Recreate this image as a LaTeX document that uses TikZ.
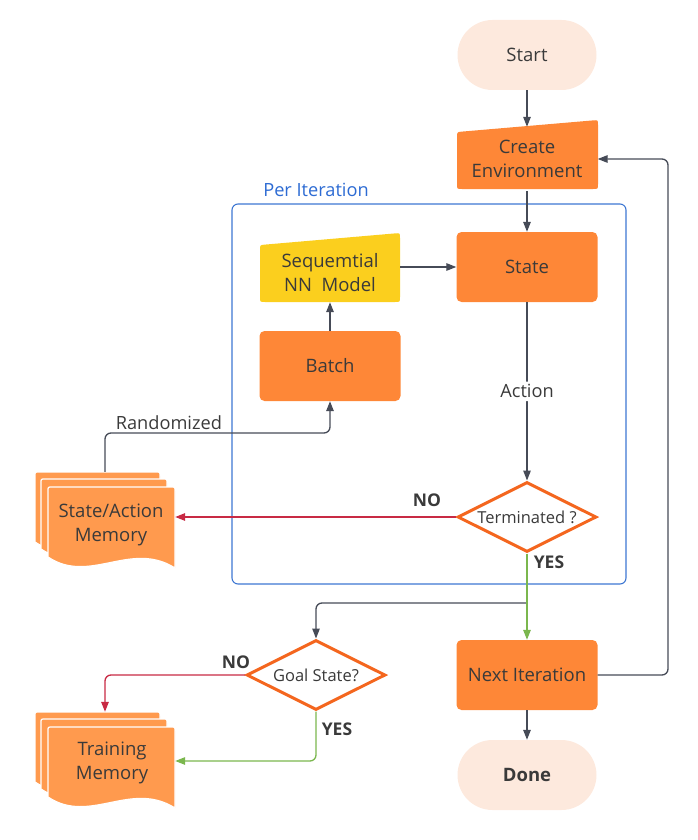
\documentclass[tikz,border=0pt]{standalone}
\usepackage{fontspec}
\setmainfont{Open Sans}
\usetikzlibrary{shapes.geometric,arrows.meta}

\definecolor{peach}{HTML}{FDE9DD}
\definecolor{procfill}{HTML}{FE8737}
\definecolor{memfill}{HTML}{FF9A4E}
\definecolor{modelfill}{HTML}{FBCF1E}
\definecolor{decline}{HTML}{F4661E}
\definecolor{txt}{HTML}{3A3A3A}
\definecolor{wire}{HTML}{464B57}
\definecolor{nored}{HTML}{C82A44}
\definecolor{yesgreen}{HTML}{7BB74E}
\definecolor{loopblue}{HTML}{3E77D2}
\definecolor{looptxt}{HTML}{2D6BD3}

% one page of a stacked document symbol: #1,#2 = top-left, #3 = width, #4 = height
\newcommand\docpage[4]{%
  \fill[memfill, draw=white, line width=1.2pt]
    (#1,#2+4) .. controls (#1,#2) .. (#1+4,#2)
    -- (#1+#3-4,#2) .. controls (#1+#3,#2) .. (#1+#3,#2+4)
    -- (#1+#3,#2+#4)
    .. controls (#1+0.65*#3,#2+#4-28) and (#1+0.33*#3,#2+#4+17) .. (#1,#2+#4-11)
    -- cycle;}

\begin{document}
\begin{tikzpicture}[x=1pt,y=-1pt,
  every node/.style={text=txt, font=\fontsize{18.5}{24}\selectfont},
  terminal/.style={rectangle, rounded corners=35pt, fill=peach,
    minimum width=139pt, minimum height=70pt, inner sep=0pt},
  procbox/.style={rectangle, rounded corners=5pt, fill=procfill,
    minimum width=141pt, minimum height=70pt, inner sep=0pt, align=center},
  textbox/.style={inner sep=0pt, align=center},
  decision/.style={diamond, draw=decline, line width=3pt, fill=white,
    minimum width=139pt, minimum height=70pt, inner sep=0pt, aspect=2,
    font=\fontsize{16.5}{20}\selectfont},
  lbl/.style={inner sep=1pt, font=\fontsize{18.2}{22}\selectfont},
  yn/.style={inner sep=1pt, font=\fontsize{17.5}{21}\selectfont\bfseries},
  wireline/.style={draw=wire, line width=1.3pt, rounded corners=6pt},
  arr/.style={wireline, -{Triangle[length=10pt,width=7.5pt]}},
  noarr/.style={draw=nored, line width=1.3pt, rounded corners=6pt,
    -{Triangle[length=10pt,width=7.5pt]}},
  yesarr/.style={draw=yesgreen, line width=1.3pt, rounded corners=6pt,
    -{Triangle[length=10pt,width=7.5pt]}}
]
\useasboundingbox (0,0) rectangle (697,840);

% loop frame
\draw[loopblue, line width=1.1pt, rounded corners=6pt] (232,204) rectangle (626,584);
\node[lbl, text=looptxt] (looplbl) at (316,190) {Per Iteration};

% terminals
\node[terminal] (start) at (527,55) {Start};
\node[terminal, font=\fontsize{18.5}{22}\selectfont\bfseries] (done) at (527,775) {Done};

% manual-input shapes
\fill[procfill] (457,138) .. controls (457,132) .. (462,131.6)
  -- (593,120.4) .. controls (598,120) .. (598,125)
  -- (598,184) .. controls (598,189) .. (593,189)
  -- (462,189) .. controls (457,189) .. (457,184) -- cycle;
\node[textbox, minimum width=141pt, minimum height=64pt] (create) at (527,159) {Create\\Environment};

\fill[modelfill] (260,250) .. controls (260,245) .. (265,244.6)
  -- (395,233.4) .. controls (400,233) .. (400,238)
  -- (400,297) .. controls (400,302) .. (395,302)
  -- (265,302) .. controls (260,302) .. (260,297) -- cycle;
\node[textbox, minimum width=140pt, minimum height=58pt] (seq) at (330,273) {Sequemtial\\NN\ \ Model};

% process boxes
\node[procbox] (state) at (527,267) {State};
\node[procbox] (batch) at (330,366) {Batch};
\node[procbox] (next) at (527,675) {Next Iteration};

% decisions (zero-width text box keeps the diamond at its minimum size)
\node[decision] (term) at (527,517) {\makebox[0pt]{Terminated ?}};
\node[decision] (goal) at (316,675) {\makebox[0pt]{Goal State?}};

% stacked memories
\docpage{35}{472}{125}{81}
\docpage{41}{479}{126}{81}
\docpage{48}{487}{127}{81}
\node[minimum width=140pt, minimum height=98pt, inner sep=0pt] (sam) at (105,521) {};
\node[textbox] (samtxt) at (111,525) {State/Action\\Memory};

\docpage{35}{712}{125}{81}
\docpage{41}{719}{126}{81}
\docpage{48}{727}{127}{81}
\node[minimum width=140pt, minimum height=98pt, inner sep=0pt] (tm) at (105,761) {};
\node[textbox] (tmtxt) at (112,763) {Training\\Memory};

% connectors
\draw[arr] (start) -- (create);
\draw[arr] (create) -- (state);
\draw[arr] (seq.east |- state.west) -- (state.west);
\draw[arr] (batch) -- (seq);
\draw[arr] (state) -- node[lbl, fill=white, inner sep=3pt] (actlbl) {Action} (term);
\draw[arr] (sam.north) -- (105,433) -| node[pos=0.142, lbl, above=2pt] (randlbl) {Randomized} (batch.south);
\draw[noarr] (term.west) -- (term.west -| sam.east);
\node[yn] (no1) at (427,500) {NO};

\coordinate (split) at (527,603);
\draw[arr] (split) -| (goal.north);
\draw[yesarr] (term.south) -- (next.north);
\node[yn] (yes1) at (549,562) {YES};

\draw[noarr] (goal.west) -| (tm.north);
\node[yn] (no2) at (236,662) {NO};
\draw[yesarr] (goal.south) |- (tm.east);
\node[yn] (yes2) at (337,729) {YES};

\draw[arr] (next.east) -- (668,675) |- (create.east);
\draw[arr] (next) -- (done);
\end{tikzpicture}
\end{document}
